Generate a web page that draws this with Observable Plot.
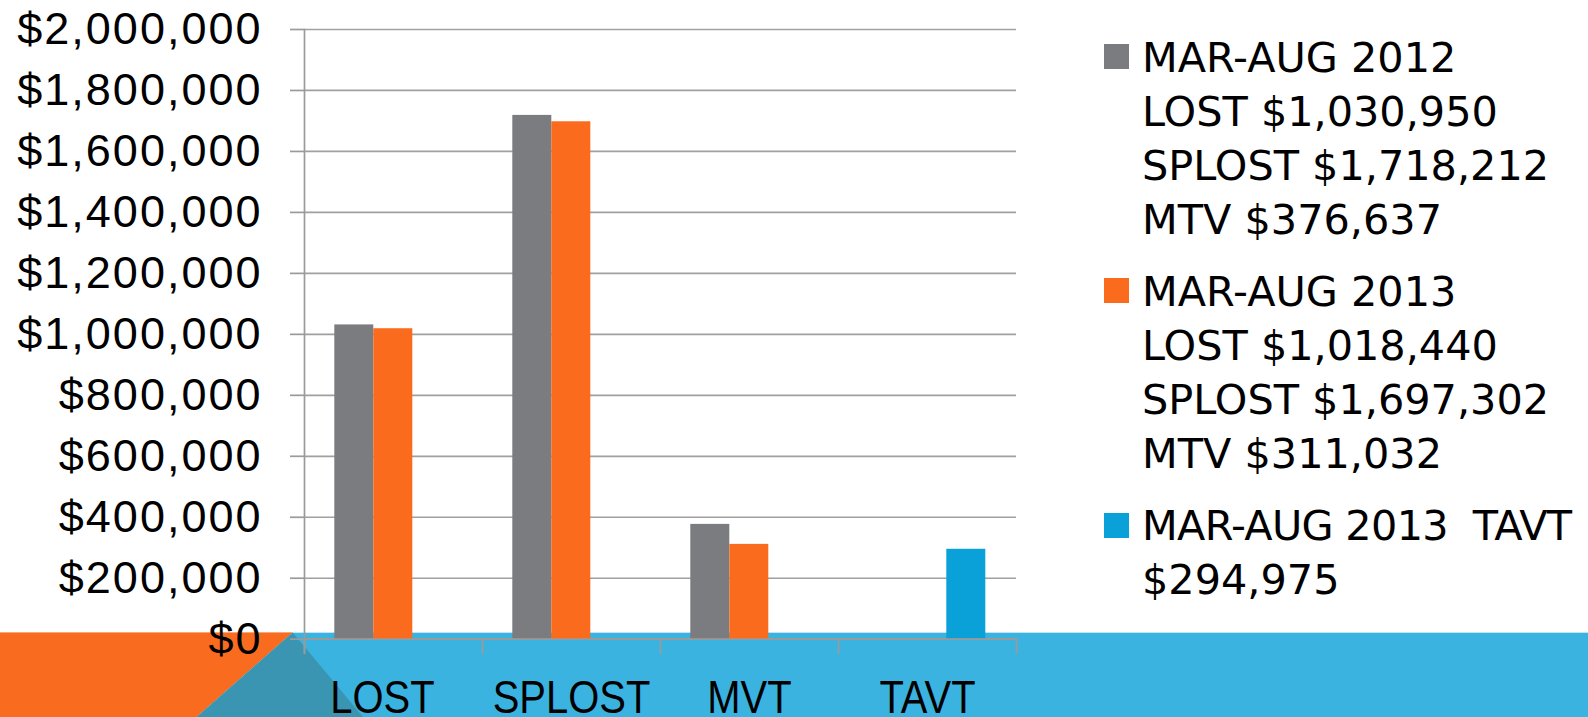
<!DOCTYPE html>
<html><head><meta charset="utf-8">
<script src="https://cdn.jsdelivr.net/npm/d3@7"></script>
<script src="https://cdn.jsdelivr.net/npm/@observablehq/plot@0.6"></script>
<style>
body{margin:0;background:#fff;}
#stage{position:relative;width:1588px;height:717px;overflow:hidden;background:#fff;}
#bg{position:absolute;left:0;top:0;}
#chart{position:absolute;left:0;top:0;}
#legend{position:absolute;left:0;top:0;width:1588px;height:717px;font-family:"DejaVu Sans",sans-serif;font-size:41.4px;color:#000;}
.grp{position:absolute;left:1142px;white-space:pre;line-height:54px;}
.sw{position:absolute;left:1104px;width:25px;height:25px;}
</style></head><body>
<div id="stage">
<svg id="bg" width="1588" height="717">
  <polygon points="0,632.5 292.7,632.5 196.7,717 0,717" fill="#f96b1e"/>
  <polygon points="292.7,632.5 1588,632.5 1588,717 196.7,717" fill="#3bb3e0"/>
  <polygon points="292.7,632.5 363,717 196.7,717" fill="#3a95b3"/>
  <line x1="292.7" y1="632.5" x2="1588" y2="632.5" stroke="#bfe4f4" stroke-width="1.2"/>
  <line x1="0" y1="632.5" x2="292.7" y2="632.5" stroke="#f9a77a" stroke-width="1.2"/>
</svg>
<div id="chart"></div>
<div id="legend"></div>
</div>
<script>
const categories = ["LOST", "SPLOST", "MVT", "TAVT"];
const categoryLabels = ["LOST\u00a0\u00a0", "SPLOST", "MVT", "TAVT"];
const seriesKeys = ["MAR-AUG 2012", "MAR-AUG 2013", "MAR-AUG 2013 TAVT"];
const seriesColors = ["#7b7c80", "#fa6b1d", "#0aa1d9"];
const values2012 = [1030950, 1718212, 376637, null];
const values2013 = [1018440, 1697302, 311032, null];
const valuesTAVT = [null, null, null, 294975];
const yTicks = [0, 200000, 400000, 600000, 800000, 1000000, 1200000, 1400000, 1600000, 1800000, 2000000];
const legendText = [
  ["MAR-AUG 2012", "LOST $1,030,950", "SPLOST $1,718,212", "MTV $376,637"],
  ["MAR-AUG 2013", "LOST $1,018,440", "SPLOST $1,697,302", "MTV $311,032"],
  ["MAR-AUG 2013  TAVT", "$294,975"]
];

const seriesValues = [values2012, values2013, valuesTAVT];
const data = [];
categories.forEach((c, i) => {
  seriesKeys.forEach((s, j) => {
    const v = seriesValues[j][i];
    if (v != null) data.push({category: c, series: s, value: v});
  });
});
const labelOf = new Map(categories.map((c, i) => [c, categoryLabels[i]]));

const axisStroke = "#9a9a9a";
const chart = Plot.plot({
  width: 1040,
  height: 717,
  marginLeft: 302.7,
  marginRight: 22.5,
  marginTop: 29,
  marginBottom: 78.3,
  style: {background: "transparent", overflow: "visible"},
  fx: {domain: categories, padding: 0, label: null},
  x: {domain: seriesKeys, paddingInner: 0, paddingOuter: 0.755, axis: null},
  y: {domain: [0, 2000000], label: null},
  color: {domain: seriesKeys, range: seriesColors},
  marks: [
    Plot.gridY(yTicks, {stroke: "#a0a0a0", strokeOpacity: 1, strokeWidth: 1.7}),
    Plot.barY(data, {fx: "category", x: "series", y: "value", fill: "series"}),
    Plot.ruleY([0], {stroke: axisStroke, strokeWidth: 1.7}),
    Plot.frame({anchor: "left", facetAnchor: "left", stroke: axisStroke, strokeWidth: 1.7, insetBottom: -14}),
    Plot.frame({anchor: "left", stroke: axisStroke, strokeWidth: 1.7, insetTop: 609.7, insetBottom: -14}),
    Plot.frame({anchor: "right", facetAnchor: "right", stroke: axisStroke, strokeWidth: 1.7, insetTop: 609.7, insetBottom: -14}),
    Plot.axisY(yTicks, {tickSize: 14, tickPadding: 28, tickFormat: d3.format("$,"), fontSize: 45, fontFamily: "Liberation Sans, Arial, sans-serif", stroke: axisStroke, strokeWidth: 1.7, fill: "black", label: null}),
    Plot.axisFx({anchor: "bottom", tickSize: 0, tickPadding: 40.2, fontSize: 47, tickFormat: d => labelOf.get(d), fontFamily: "Liberation Sans, Arial, sans-serif", fill: "black", label: null})
  ]
});
document.getElementById("chart").appendChild(chart);

// typographic adjustments (wider y labels, condensed category labels)
d3.select(chart).selectAll('g[aria-label="y-axis tick label"] text').style("letter-spacing", "2px");
d3.select(chart).selectAll('g[aria-label="fx-axis tick label"] text').each(function() {
  const t = this.getAttribute("transform") || "";
  this.setAttribute("transform", t + " scale(0.85,1)");
});

// legend
const legend = document.getElementById("legend");
const firstBaselines = [72.3, 306, 540.7];
const baselineInLine = 41.5;
legendText.forEach((lines, k) => {
  const top = firstBaselines[k] - baselineInLine;
  const sw = document.createElement("div");
  sw.className = "sw";
  sw.style.top = (firstBaselines[k] - 28) + "px";
  sw.style.background = seriesColors[k];
  legend.appendChild(sw);
  const g = document.createElement("div");
  g.className = "grp";
  g.style.top = top + "px";
  lines.forEach(t => {
    const d = document.createElement("div");
    d.textContent = t;
    if (t.length > 16 && t.indexOf("TAVT") >= 0) d.style.letterSpacing = "-0.7px";
    g.appendChild(d);
  });
  legend.appendChild(g);
});
</script>
</body></html>
